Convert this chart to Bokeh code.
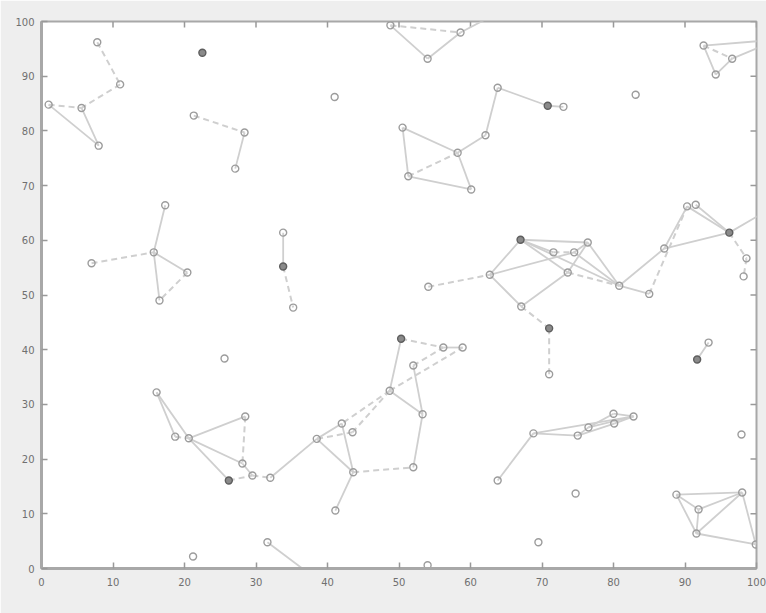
from bokeh.plotting import figure
from bokeh.models import Range1d, FixedTicker
from bokeh.embed import file_html
from bokeh.resources import INLINE

# ---- data ----
node_x = [7.8, 11.0, 1.0, 5.6, 8.0, 22.5, 21.3, 28.4, 27.1, 48.8,
          54.0, 58.6, 63.0, 41.0, 50.5, 63.8, 62.1, 58.2, 51.3, 60.1,
          70.8, 73.0, 83.1, 92.6, 96.6, 94.3, 103.0, 103.0, 17.3, 15.7,
          7.0, 20.4, 16.5, 25.6, 33.8, 33.8, 35.2, 54.1, 62.7, 50.3,
          56.2, 58.9, 52.0, 48.7, 53.3, 42.0, 43.5, 38.5, 43.6, 52.0,
          41.1, 32.0, 29.5, 31.6, 37.5, 63.8, 54.0, 16.1, 18.7, 20.6,
          28.5, 28.1, 26.2, 21.2, 67.0, 71.6, 74.5, 76.4, 73.6, 80.8,
          85.0, 87.1, 90.3, 91.5, 96.2, 98.6, 98.2, 102.0, 67.1, 71.0,
          71.0, 93.3, 91.7, 68.8, 75.0, 76.5, 80.0, 80.1, 82.8, 97.9,
          74.7, 69.5, 88.8, 91.9, 91.6, 98.0, 99.9]
node_y = [96.2, 88.5, 84.8, 84.2, 77.3, 94.3, 82.8, 79.7, 73.1, 99.3,
          93.2, 98.0, 101.0, 86.2, 80.6, 87.9, 79.2, 76.0, 71.7, 69.3,
          84.6, 84.4, 86.6, 95.6, 93.2, 90.3, 96.7, 96.7, 66.4, 57.8,
          55.8, 54.1, 49.0, 38.4, 61.4, 55.2, 47.7, 51.5, 53.7, 42.0,
          40.4, 40.4, 37.1, 32.5, 28.2, 26.5, 24.9, 23.7, 17.6, 18.5,
          10.6, 16.6, 17.0, 4.8, -1.0, 16.1, 0.6, 32.2, 24.1, 23.8,
          27.8, 19.2, 16.1, 2.2, 60.1, 57.8, 57.8, 59.6, 54.1, 51.7,
          50.2, 58.5, 66.2, 66.5, 61.4, 56.7, 53.4, 65.8, 47.9, 43.9,
          35.5, 41.3, 38.2, 24.7, 24.3, 25.8, 28.3, 26.5, 27.8, 24.5,
          13.7, 4.8, 13.5, 10.8, 6.4, 13.9, 4.4]
dark_nodes = [5, 20, 35, 39, 62, 64, 74, 79, 82]

solid_from = [2, 3, 7, 9, 10, 11, 14, 14, 18, 17, 17, 16, 15, 20, 23, 25, 23, 24,
              28, 29, 29, 34, 40, 39, 42, 43, 45, 47, 45, 44, 48, 51, 53, 55,
              57, 57, 59, 59, 59, 61, 38, 38, 38, 64, 64, 64, 64, 66, 67, 66, 68,
              78, 69, 69, 71, 71, 73, 72, 74, 81, 83, 83, 84, 85, 85, 86, 87, 84,
              92, 92, 92, 93, 94, 94, 95, 93]
solid_to = [4, 4, 8, 10, 11, 12, 17, 18, 19, 19, 16, 15, 20, 21, 25, 24, 27, 27,
            29, 31, 32, 35, 41, 43, 44, 44, 47, 48, 48, 49, 50, 47, 54, 83,
            59, 58, 60, 61, 62, 52, 64, 66, 78, 65, 67, 68, 69, 67, 69, 69, 67,
            68, 71, 70, 74, 72, 74, 74, 77, 82, 84, 88, 85, 86, 88, 88, 88, 87,
            95, 93, 94, 95, 95, 96, 96, 94]
dash_from = [0, 1, 2, 6, 9, 18, 30, 31, 35, 37, 39, 42, 43, 43, 43, 46, 48, 52,
             58, 60, 62, 65, 68, 70, 74, 75, 78, 79, 23]
dash_to = [1, 3, 3, 7, 11, 17, 29, 32, 36, 38, 40, 40, 41, 45, 46, 47, 49, 51,
           59, 61, 52, 66, 69, 72, 75, 76, 79, 80, 24]

x_ticks = [0, 10, 20, 30, 40, 50, 60, 70, 80, 90, 100]
y_ticks = [0, 10, 20, 30, 40, 50, 60, 70, 80, 90, 100]
x_min, x_max = 0, 100
y_min, y_max = 0, 100

# ---- figure ----
p = figure(width=766, height=613, output_backend="svg", toolbar_location=None,
           x_range=Range1d(x_min, x_max), y_range=Range1d(y_min, y_max),
           min_border_left=41, min_border_right=10, min_border_top=21,
           min_border_bottom=45)
p.background_fill_color = "white"
p.border_fill_color = "#eeeeee"
p.outline_line_color = "#a8a8a8"
p.outline_line_width = 2
p.xgrid.visible = False
p.ygrid.visible = False

for ax, ticks in ((p.xaxis[0], x_ticks), (p.yaxis[0], y_ticks)):
    ax.ticker = FixedTicker(ticks=ticks)
    ax.axis_line_color = "#a8a8a8"
    ax.axis_line_width = 3
    ax.major_tick_in = 6
    ax.major_tick_out = 0
    ax.major_tick_line_color = "#999999"
    ax.major_tick_line_width = 1.5
    ax.minor_tick_line_color = None
    ax.major_label_text_font = "DejaVu Sans"
    ax.major_label_text_font_size = "10px"
    ax.major_label_text_color = "#707070"
p.xaxis[0].major_label_standoff = 9
p.yaxis[0].major_label_standoff = 7

# tick marks on the top and right frame edges (MATLAB box), from the tick lists
tick_len_y = (y_max - y_min) * 6 / 547
tick_len_x = (x_max - x_min) * 6 / 715
p.segment(x0=x_ticks, y0=[y_max] * len(x_ticks), x1=x_ticks,
          y1=[y_max - tick_len_y] * len(x_ticks), line_color="#999999", line_width=1.5)
p.segment(x0=[x_max] * len(y_ticks), y0=y_ticks, x1=[x_max - tick_len_x] * len(y_ticks),
          y1=y_ticks, line_color="#999999", line_width=1.5)

# edges
sx = [[node_x[a], node_x[b]] for a, b in zip(solid_from, solid_to)]
sy = [[node_y[a], node_y[b]] for a, b in zip(solid_from, solid_to)]
p.multi_line(sx, sy, line_color="#cfcfcf", line_width=1.8)
dx = [[node_x[a], node_x[b]] for a, b in zip(dash_from, dash_to)]
dy = [[node_y[a], node_y[b]] for a, b in zip(dash_from, dash_to)]
p.multi_line(dx, dy, line_color="#cfcfcf", line_width=2, line_dash="6 4")

# nodes
light = [i for i in range(len(node_x)) if i not in dark_nodes]
p.scatter([node_x[i] for i in light], [node_y[i] for i in light], marker="circle",
          size=7, fill_color=None, line_color="#9c9c9c", line_width=1.4)
p.scatter([node_x[i] for i in dark_nodes], [node_y[i] for i in dark_nodes],
          marker="circle", size=7, fill_color="#8a8a8a", line_color="#5e5e5e",
          line_width=1.4)

open("out.html", "w").write(file_html(p, INLINE))
